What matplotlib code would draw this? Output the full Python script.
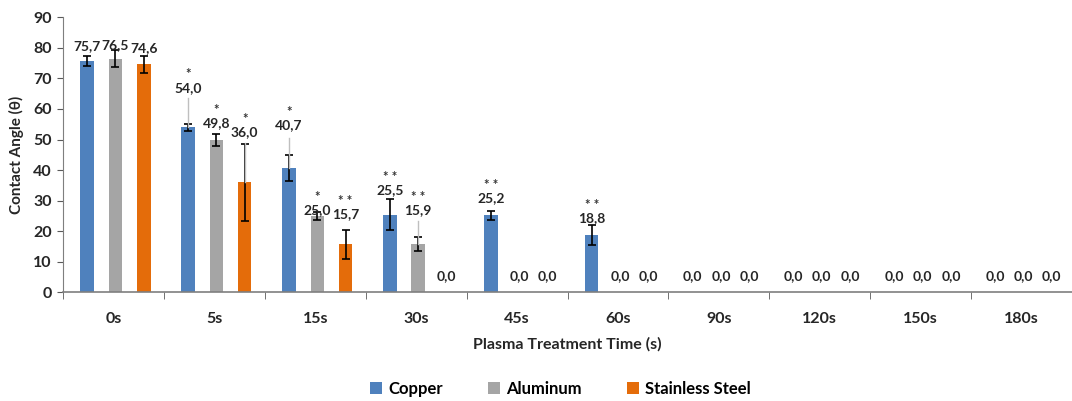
import numpy as np
import matplotlib
matplotlib.use("Agg")
import matplotlib.pyplot as plt
from matplotlib.patches import Patch

plt.rcParams['font.family'] = ['Lato', 'DejaVu Sans']
plt.rcParams['font.weight'] = 'bold'

# ---- data -------------------------------------------------------------
times = ["0s", "5s", "15s", "30s", "45s", "60s", "90s", "120s", "150s", "180s"]
series = ["Copper", "Aluminum", "Stainless Steel"]

copper = [75.7, 54.0, 40.7, 25.5, 25.2, 18.8, 0.0, 0.0, 0.0, 0.0]
aluminum = [76.5, 49.8, 25.0, 15.9, 0.0, 0.0, 0.0, 0.0, 0.0, 0.0]
steel = [74.6, 36.0, 15.7, 0.0, 0.0, 0.0, 0.0, 0.0, 0.0, 0.0]

copper_err = [1.7, 1.1, 4.4, 5.1, 1.5, 3.3, 0, 0, 0, 0]
aluminum_err = [2.9, 1.9, 1.2, 2.4, 0, 0, 0, 0, 0, 0]
steel_err = [2.8, 12.5, 4.8, 0, 0, 0, 0, 0, 0, 0]

# significance marks shown above the value labels
copper_sig = ["", "*", "*", "* *", "* *", "* *", "", "", "", ""]
aluminum_sig = ["", "*", "*", "* *", "", "", "", "", "", ""]
steel_sig = ["", "*", "* *", "", "", "", "", "", "", ""]

# ---- label layout (height of each value label, in axis units) ---------
copper_lab_y = [80.5, 67.0, 54.6, 33.5, 30.9, 24.3, 5.4, 5.4, 5.4, 5.4]
aluminum_lab_y = [81.0, 55.3, 27.0, 27.0, 5.4, 5.4, 5.4, 5.4, 5.4, 5.4]
steel_lab_y = [79.8, 52.4, 25.6, 5.4, 5.4, 5.4, 5.4, 5.4, 5.4, 5.4]
# gray leader lines from the moved labels down to the bar tops
copper_lead = [None, 63.5, 50.6, None, None, None, None, None, None, None]
aluminum_lead = [None, None, None, 23.4, None, None, None, None, None, None]
steel_lead = [None, 49.0, None, None, None, None, None, None, None, None]

colors = ["#4F81BD", "#A5A5A5", "#E46C0A"]
text_col = "#262626"

fig = plt.figure(figsize=(10.72, 4.01), dpi=100)
ax = fig.add_axes([0.0588, 0.2706, 0.9412, 0.6864])

x = np.arange(len(times))
width = 0.134
offsets = [-0.28, 0.0, 0.28]

values = [copper, aluminum, steel]
errors = [copper_err, aluminum_err, steel_err]
sigs = [copper_sig, aluminum_sig, steel_sig]
lab_ys = [copper_lab_y, aluminum_lab_y, steel_lab_y]
leads = [copper_lead, aluminum_lead, steel_lead]

for vals, errs, sig, laby, lead, off, col in zip(values, errors, sigs, lab_ys, leads, offsets, colors):
    xs = x + off + 0.02
    ax.bar(xs, vals, width, color=col, zorder=2)
    for xi, v, e, s, ly, ld in zip(xs, vals, errs, sig, laby, lead):
        if e > 0:
            ax.errorbar(xi, v, yerr=e, fmt="none", ecolor="black",
                        elinewidth=1.2, capsize=3.2, capthick=1.2, zorder=3)
        if ld is not None:
            ax.plot([xi, xi], [v, ld], color="#BFBFBF", lw=1.0, zorder=4)
        ax.text(xi, ly, f"{v:.1f}".replace(".", ","), ha="center", va="center",
                fontsize=10, fontweight="bold", color=text_col, zorder=5)
        if s:
            ax.text(xi, ly + 4.3, s, ha="center", va="center",
                    fontsize=9.5, fontweight="bold", color="#333333", zorder=5)

ax.set_xlim(-0.5, len(times) - 0.5)
ax.set_ylim(0, 90)
ax.set_yticks(np.arange(0, 91, 10))
ax.set_xticks(x)
ax.set_xticklabels(times)
ax.set_xticks(np.arange(-0.5, len(times), 1.0), minor=True)
ax.tick_params(axis="x", which="major", length=0, pad=14, labelsize=11.5)
ax.tick_params(axis="x", which="minor", length=5, color="#595959", direction="out")
ax.tick_params(axis="y", length=4, color="#595959", labelsize=11.5, pad=4)
for lab in ax.get_xticklabels() + ax.get_yticklabels():
    lab.set_fontweight("bold")
    lab.set_color(text_col)

for side in ["top", "right"]:
    ax.spines[side].set_visible(False)
ax.spines["left"].set_color("#7F7F7F")
ax.spines["bottom"].set_color("#7F7F7F")
ax.spines["bottom"].set_linewidth(1.2)

ax.set_ylabel("Contact Angle (θ)", fontsize=11, fontweight="bold", color=text_col, labelpad=7)
ax.set_xlabel("Plasma Treatment Time (s)", fontsize=11.5, fontweight="bold", color=text_col, labelpad=8)

handles = [Patch(facecolor=c, label=s) for c, s in zip(colors, series)]
fig.legend(handles=handles, loc="center", bbox_to_anchor=(0.523, 0.03), ncol=3,
           frameon=False, handlelength=0.7, handleheight=0.7,
           handletextpad=0.4, columnspacing=2.7,
           prop={"weight": "bold", "size": 12})

fig.savefig("out.png", dpi=100)
